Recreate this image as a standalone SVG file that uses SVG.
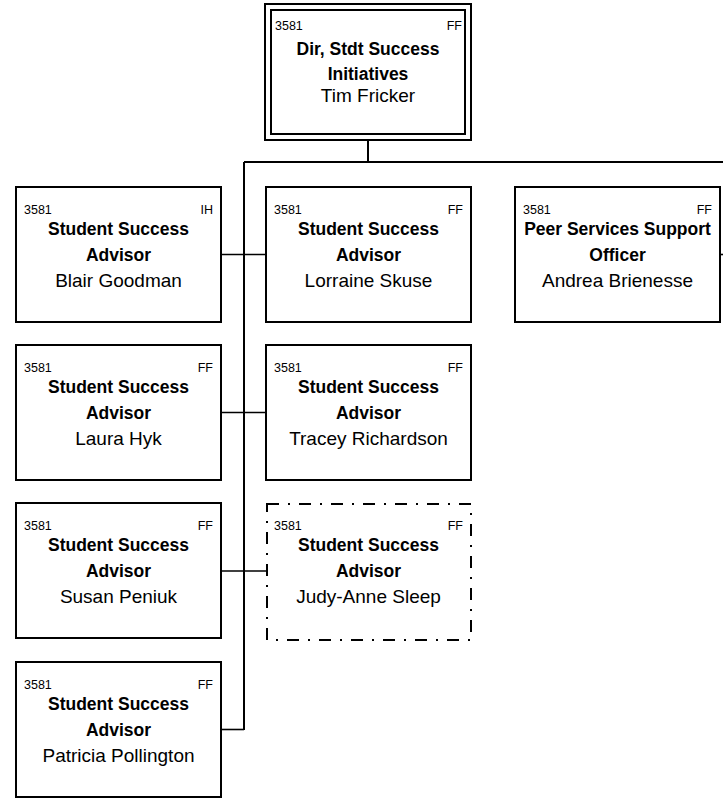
<svg xmlns="http://www.w3.org/2000/svg" width="723" height="800" viewBox="0 0 723 800">
<style>
.box{fill:#fff;stroke:#000;stroke-width:2}
.dash{fill:#fff;stroke:#000;stroke-width:2;stroke-dasharray:12,9,2,9}
.conn{fill:none;stroke:#000;stroke-width:2}
.br{fill:none;stroke:#000;stroke-width:1.6}
text{font-family:"Liberation Sans",Arial,sans-serif;fill:#000}
.code{font-size:12.5px}
.codeR{font-size:12.5px;text-anchor:end}
.title{font-size:17.5px;font-weight:bold;text-anchor:middle}
.name{font-size:19px;text-anchor:middle}
</style>
<rect width="723" height="800" fill="#fff"/>
<g id="connectors">
<polyline class="conn" points="368,140 368,162"/>
<polyline class="conn" points="244,162 723,162"/>
<polyline class="conn" points="244,162 244,730"/>
<polyline class="br" points="221,254.5 266,254.5"/>
<polyline class="br" points="221,412.5 266,412.5"/>
<polyline class="br" points="221,571 266,571"/>
<polyline class="br" points="221,729.5 244,729.5"/>
<polyline class="br" points="720,254.5 723,254.5"/>
</g>
<g id="n-tim">
<rect class="box" x="265" y="4" width="206" height="136"/>
<rect class="box" x="271" y="10" width="194" height="124"/>
<text class="code" x="275" y="30">3581</text>
<text class="codeR" x="462" y="30">FF</text>
<text class="title" x="368" y="55">Dir, Stdt Success</text>
<text class="title" x="368" y="80">Initiatives</text>
<text class="name" x="368" y="102">Tim Fricker</text>
</g>
<g id="n-blair">
<rect class="box" x="16" y="187" width="205" height="135"/>
<text class="code" x="24" y="214">3581</text>
<text class="codeR" x="213" y="214">IH</text>
<text class="title" x="118.5" y="235">Student Success</text>
<text class="title" x="118.5" y="261">Advisor</text>
<text class="name" x="118.5" y="287">Blair Goodman</text>
</g>
<g id="n-lorraine">
<rect class="box" x="266" y="187" width="205" height="135"/>
<text class="code" x="274" y="214">3581</text>
<text class="codeR" x="463" y="214">FF</text>
<text class="title" x="368.5" y="235">Student Success</text>
<text class="title" x="368.5" y="261">Advisor</text>
<text class="name" x="368.5" y="287">Lorraine Skuse</text>
</g>
<g id="n-andrea">
<rect class="box" x="515" y="187" width="205" height="135"/>
<text class="code" x="523" y="214">3581</text>
<text class="codeR" x="712" y="214">FF</text>
<text class="title" x="617.5" y="235">Peer Services Support</text>
<text class="title" x="617.5" y="261">Officer</text>
<text class="name" x="617.5" y="287">Andrea Brienesse</text>
</g>
<g id="n-laura">
<rect class="box" x="16" y="345" width="205" height="135"/>
<text class="code" x="24" y="372">3581</text>
<text class="codeR" x="213" y="372">FF</text>
<text class="title" x="118.5" y="393">Student Success</text>
<text class="title" x="118.5" y="419">Advisor</text>
<text class="name" x="118.5" y="445">Laura Hyk</text>
</g>
<g id="n-tracey">
<rect class="box" x="266" y="345" width="205" height="135"/>
<text class="code" x="274" y="372">3581</text>
<text class="codeR" x="463" y="372">FF</text>
<text class="title" x="368.5" y="393">Student Success</text>
<text class="title" x="368.5" y="419">Advisor</text>
<text class="name" x="368.5" y="445">Tracey Richardson</text>
</g>
<g id="n-susan">
<rect class="box" x="16" y="503" width="205" height="135"/>
<text class="code" x="24" y="530">3581</text>
<text class="codeR" x="213" y="530">FF</text>
<text class="title" x="118.5" y="551">Student Success</text>
<text class="title" x="118.5" y="577">Advisor</text>
<text class="name" x="118.5" y="603">Susan Peniuk</text>
</g>
<g id="n-judy">
<rect class="dash" x="267" y="504" width="204" height="136"/>
<text class="code" x="274" y="530">3581</text>
<text class="codeR" x="463" y="530">FF</text>
<text class="title" x="368.5" y="551">Student Success</text>
<text class="title" x="368.5" y="577">Advisor</text>
<text class="name" x="368.5" y="603">Judy-Anne Sleep</text>
</g>
<g id="n-patricia">
<rect class="box" x="16" y="662" width="205" height="135"/>
<text class="code" x="24" y="689">3581</text>
<text class="codeR" x="213" y="689">FF</text>
<text class="title" x="118.5" y="710">Student Success</text>
<text class="title" x="118.5" y="736">Advisor</text>
<text class="name" x="118.5" y="762">Patricia Pollington</text>
</g>
</svg>
